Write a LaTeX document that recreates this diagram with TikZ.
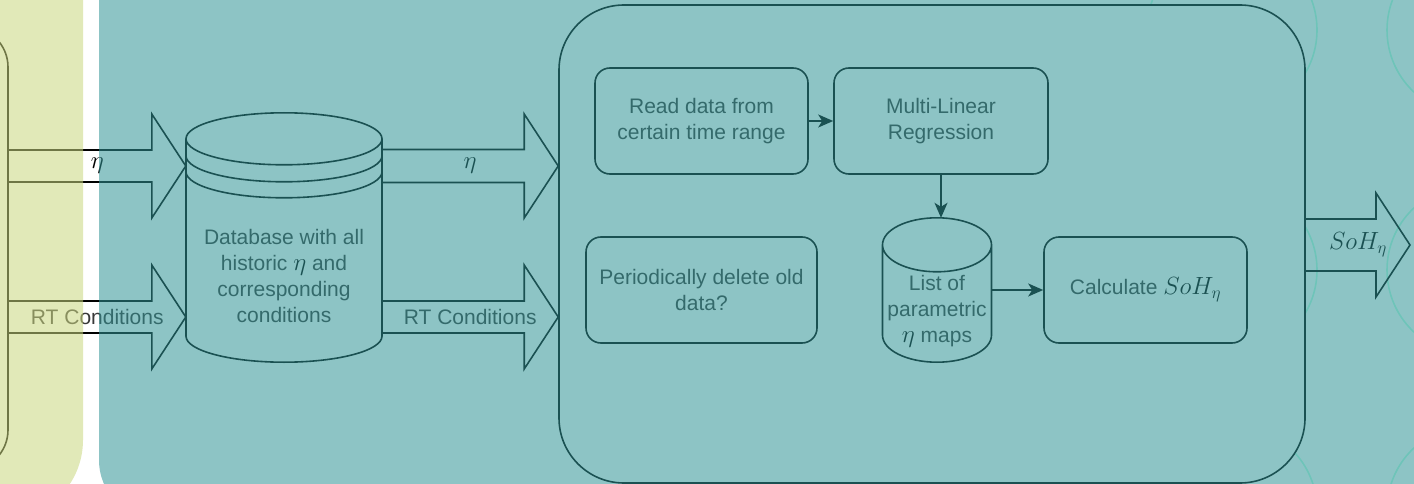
\documentclass[tikz,border=0pt]{standalone}
\usepackage{fontspec}
\setmainfont{Liberation Sans}
\usetikzlibrary{arrows.meta,calc}

% washes laid over the drawing, and the ink colours beneath them
\definecolor{tealwash}{RGB}{49,148,150}
\definecolor{olivewash}{RGB}{202,215,127}
\definecolor{txt}{RGB}{56,56,56}
\definecolor{ringc}{RGB}{185,255,228}

% math set a little larger and darker than the running text
\newcommand\mth[1]{{\fontsize{25}{26}\selectfont\color{black}$#1$}}

\tikzset{
  edge/.style={line width=1.6pt, draw=black},
  box/.style={edge, rounded corners=15pt, fill=white, text=txt, align=center, inner sep=0pt},
  flow/.style={edge, -{Stealth[length=15pt,width=13pt,inset=4pt]}},
  lbl/.style={text=txt, inner sep=0pt, align=center},
  ringline/.style={draw=ringc, line width=1.6pt},
  holder/.style={draw=none, inner sep=0pt},
}

% block arrow: start point, tip point, centre line y (px), half shaft width, label
\newcommand\fatarrow[5]{%
  \draw[edge] let \p1=(#1), \p2=(#2) in
    (\x1,-#3pt+#4pt) -- (\x2-34pt,-#3pt+#4pt) -- (\x2-34pt,-#3pt+52pt) -- (\x2,-#3pt)
    -- (\x2-34pt,-#3pt-52pt) -- (\x2-34pt,-#3pt-#4pt) -- (\x1,-#3pt-#4pt)
    ({0.5*\x1+0.5*\x2},-#3pt) node[lbl] {#5};}

% datastore cylinder drawn round a holder node: node, x radius, y radius
\newcommand\cyl[3]{%
  \draw[edge, fill=white] let \p1=(#1.north), \p2=(#1.south) in
    (\x1-#2pt,\y1-#3pt) -- (\x1-#2pt,\y2+#3pt)
    arc[start angle=180, end angle=360, x radius=#2pt, y radius=#3pt]
    -- (\x1+#2pt,\y1-#3pt)
    arc[start angle=0, end angle=180, x radius=#2pt, y radius=#3pt] -- cycle
    (\x1-#2pt,\y1-#3pt)
    arc[start angle=180, end angle=360, x radius=#2pt, y radius=#3pt];}

\begin{document}
\begin{tikzpicture}[x=1pt, y=-1pt, font=\fontsize{21}{26}\selectfont]
\useasboundingbox (0,0) rectangle (1414,484);
\fill[white] (0,0) rectangle (1414,484);

% decorative rings behind the process block
\foreach \cx in {1232,1472}
  \foreach \cy in {30,270,510}
    \draw[ringline] (\cx,\cy) circle[radius=85];

% source block (mostly off to the left)
\node[edge, fill=white, rounded corners=40pt, minimum width=208pt,
      minimum height=443pt, inner sep=0pt] (src) at (-96,248.5) {};

% process block
\node[edge, fill=white, rounded corners=65pt, minimum width=746pt,
      minimum height=478pt, inner sep=0pt] (proc) at (932,244) {};

% database of historic values
\node[holder, minimum width=196pt, minimum height=249pt] (db) at (284,237.5) {};
\cyl{db}{98}{26}
\draw[edge] let \p1=(db.north) in
  (\x1-98pt,\y1-43pt) arc[start angle=180, end angle=360, x radius=98pt, y radius=26pt]
  (\x1-98pt,\y1-59pt) arc[start angle=180, end angle=360, x radius=98pt, y radius=26pt];
\node[lbl] (dbtext) at (284,276) {Database with all\\historic \mth{\eta} and\\corresponding\\conditions};

% inputs to the database
\fatarrow{src.east}{db.west}{166}{16}{\mth{\eta}}
\fatarrow{src.east}{db.west}{317}{16}{RT Conditions}

% database to process block
\fatarrow{db.east}{proc.west}{166}{16.5}{\mth{\eta}}
\fatarrow{db.east}{proc.west}{317}{16}{RT Conditions}

% steps inside the process block
\node[box, minimum width=213pt, minimum height=106pt] (read) at (701.5,121) {Read data from\\certain time range};
\node[box, minimum width=214pt, minimum height=106pt] (mlr) at (941,121) {Multi-Linear\\Regression};
\node[box, minimum width=231pt, minimum height=106pt] (del) at (701.5,290) {Periodically delete old\\data?};
\node[box, minimum width=203pt, minimum height=106pt] (calc) at (1145.5,290) {Calculate \mth{SoH_\eta}};

\node[holder, minimum width=109pt, minimum height=144pt] (lst) at (937,290) {};
\cyl{lst}{54.5}{27}
\node[lbl] (lsttext) at (937,311) {List of\\parametric\\\mth{\eta} maps};

\draw[flow] (read) -- (mlr);
\draw[flow] (mlr.south) -- (mlr.south |- lst.north);
\draw[flow] (lst.east) -- (calc.west);

% output
\coordinate (out) at (1410,245);
\fatarrow{proc.east}{out}{245}{26}{\mth{SoH_\eta}}

% coloured washes over the two lanes
\fill[tealwash, fill opacity=0.55, rounded corners=60pt] (99,-100) rectangle (1600,520);
\fill[olivewash, fill opacity=0.55, rounded corners=80pt] (-200,-100) rectangle (83,520);
\end{tikzpicture}
\end{document}
